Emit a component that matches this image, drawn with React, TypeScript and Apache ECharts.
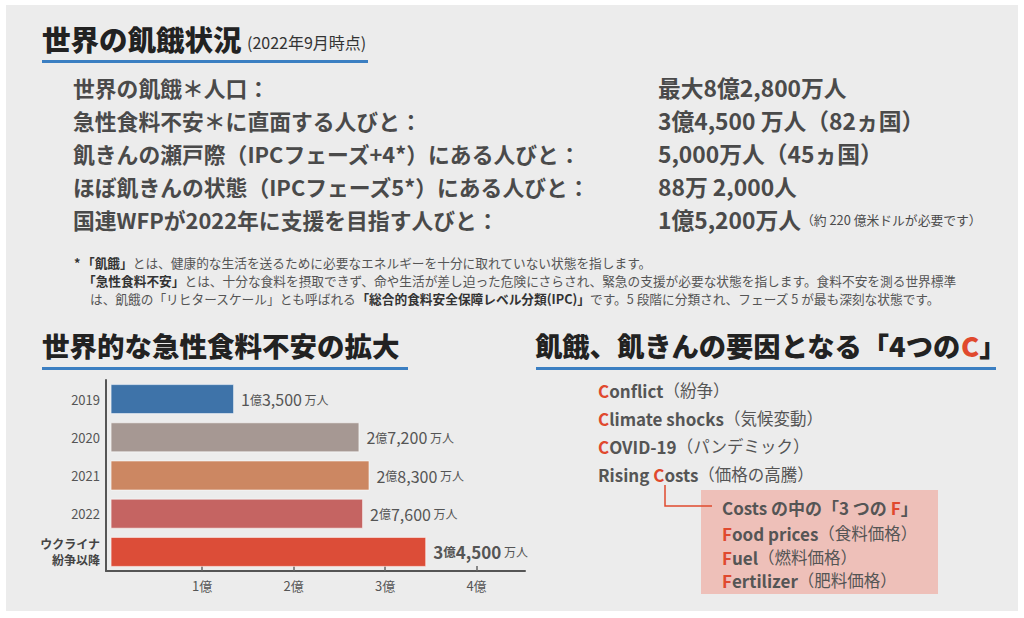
import React, { useEffect, useRef } from 'react';
import * as echarts from 'echarts';

// ---------- data ----------
const titleMain = '世界の飢餓状況';
const titleDate = '(2022年9月時点)';
const statLabels = [
  '世界の飢餓＊人口：',
  '急性食料不安＊に直面する人びと：',
  '飢きんの瀬戸際（IPCフェーズ+4*）にある人びと：',
  'ほぼ飢きんの状態（IPCフェーズ5*）にある人びと：',
  '国連WFPが2022年に支援を目指す人びと：',
];
const statValues = [
  '最大8億2,800万人',
  '3億4,500 万人（82ヵ国）',
  '5,000万人（45ヵ国）',
  '88万 2,000人',
  '1億5,200万人',
];
const statNote = '（約 220 億米ドルが必要です）';

const chartTitle = '世界的な急性食料不安の拡大';
const categories = ['2019', '2020', '2021', '2022', 'ウクライナ\n紛争以降'];
const values = [1.35, 2.72, 2.83, 2.76, 3.45]; // 億人
const barColors = ['#3e73a9', '#a69893', '#cc8762', '#c56462', '#dc4d38'];
const axisTicks = [1, 2, 3, 4];

const causesTitle = '飢餓、飢きんの要因となる「4つの';
const cPrefix = ['', '', '', 'Rising '];
const cRest = ['onflict', 'limate shocks', 'OVID-19', 'osts'];
const cJp = ['（紛争）', '（気候変動）', '（パンデミック）', '（価格の高騰）'];
const fRest = ['ood prices', 'uel', 'ertilizer'];
const fJp = ['（食料価格）', '（燃料価格）', '（肥料価格）'];

const FONT = '"Noto Sans CJK JP", "Noto Sans", sans-serif';
const TXT = '#4a4a4a';
const RED = '#e0492e';
const BLUE = '#3b7fc2';

function fmtLabel(v: number, bold: boolean) {
  const oku = Math.floor(v);
  const man = Math.round((v - oku) * 10000);
  const s = man.toLocaleString('en-US');
  const p = bold ? 'b' : 'n';
  return `{${p}|${oku}}{${bold ? 'kb' : 'k'}|億}{${p}|${s}}{u| 万人}`;
}

export default function App() {
  const ref = useRef<HTMLDivElement>(null);
  useEffect(() => {
    if (!ref.current) return;
    const chart = echarts.init(ref.current, undefined, { renderer: 'svg' });
    const g: any[] = [];
    g.push({ type: 'rect', shape: { x: 6, y: 5, width: 1012, height: 606 }, style: { fill: '#ececec' }, z: -10 });
    const txt = (x: number, y: number, text: string, size: number, weight: any, fill: string, extra: any = {}) =>
      g.push({ type: 'text', x, y, style: { text, fontSize: size, fontWeight: weight, fontFamily: FONT, fill, verticalAlign: 'middle', ...extra } });
    // titles
    txt(42, 38, titleMain, 28.5, 900, '#222');
    txt(247, 42, titleDate, 16, 'normal', '#333');
    g.push({ type: 'rect', shape: { x: 42, y: 60, width: 326, height: 3 }, style: { fill: BLUE } });
    const rowY = [87, 120, 153, 186, 219];
    statLabels.forEach((s, i) => txt(73, rowY[i], s, 21.8, 'bold', TXT));
    statValues.forEach((s, i) => {
      if (i === statValues.length - 1) {
        g.push({ type: 'text', x: 658, y: rowY[i], style: { text: `{a|${s}}{b|${statNote}}`, verticalAlign: 'middle', fontFamily: FONT,
          rich: { a: { fontSize: 22.8, fontWeight: 'bold', fill: TXT, fontFamily: FONT }, b: { fontSize: 12.8, fill: TXT, fontFamily: FONT } } } });
      } else txt(658, rowY[i], s, 22.8, 'bold', TXT);
    });
    // footnotes
    const richFoot = {
      n: { fontSize: 12.7, fill: '#555', fontFamily: FONT },
      b: { fontSize: 12.7, fill: '#333', fontWeight: 'bold', fontFamily: FONT },
    };
    const foot = (x: number, y: number, text: string) =>
      g.push({ type: 'text', x, y, style: { text, verticalAlign: 'middle', fontFamily: FONT, rich: richFoot } });
    foot(74, 262, '{b|*}');
    foot(82, 262, '{b|「飢餓」}{n|とは、健康的な生活を送るために必要なエネルギーを十分に取れていない状態を指します。}');
    foot(83, 280, '{b|「急性食料不安」}{n|とは、十分な食料を摂取できず、命や生活が差し迫った危険にさらされ、緊急の支援が必要な状態を指します。食料不安を測る世界標準}');
    foot(90, 298, '{n|は、飢餓の「リヒタースケール」とも呼ばれる}{b|「総合的食料安全保障レベル分類(IPC)」}{n|です。5 段階に分類され、フェーズ 5 が最も深刻な状態です。}');
    // section titles
    txt(42, 345, chartTitle, 27.5, 900, '#222');
    g.push({ type: 'rect', shape: { x: 42, y: 367, width: 366, height: 3 }, style: { fill: BLUE } });
    g.push({ type: 'text', x: 535, y: 345, style: { text: `{a|${causesTitle}}{r|C}{a|」}`, verticalAlign: 'middle', fontFamily: FONT,
      rich: { a: { fontSize: 27.3, fontWeight: 900, fill: '#222', fontFamily: FONT }, r: { fontSize: 27.3, fontWeight: 900, fill: RED, fontFamily: FONT } } } });
    g.push({ type: 'rect', shape: { x: 536, y: 367, width: 460, height: 3 }, style: { fill: BLUE } });
    // causes
    const richC = {
      e: { fontSize: 17, fontWeight: 'bold', fill: '#555', fontFamily: FONT },
      r: { fontSize: 17, fontWeight: 'bold', fill: RED, fontFamily: FONT },
      j: { fontSize: 16.5, fill: '#555', fontFamily: FONT },
    };
    const cY = [390, 418, 446, 474];
    cRest.forEach((r, i) => {
      const pre = cPrefix[i] ? `{e|${cPrefix[i]}}` : '';
      g.push({ type: 'text', x: 598, y: cY[i], style: { text: `${pre}{r|C}{e|${r}}{j|${cJp[i]}}`, verticalAlign: 'middle', fontFamily: FONT, rich: richC } });
    });
    g.push({ type: 'rect', shape: { x: 701, y: 490, width: 237, height: 104 }, style: { fill: '#eec0b9' } });
    g.push({ type: 'polyline', shape: { points: [[665, 485], [665, 506], [712, 506]] }, style: { stroke: RED, lineWidth: 1.5, fill: null } });
    g.push({ type: 'text', x: 722, y: 507, style: { text: '{e|Costs の中の「3 つの }{r|F}{e|」}', verticalAlign: 'middle', fontFamily: FONT, rich: richC } });
    const fY = [533, 557, 580];
    fRest.forEach((r, i) => {
      g.push({ type: 'text', x: 722, y: fY[i], style: { text: `{r|F}{e|${r}}{j|${fJp[i]}}`, verticalAlign: 'middle', fontFamily: FONT, rich: richC } });
    });

    const last = values.length - 1;
    chart.setOption({
      animation: false,
      backgroundColor: '#ffffff',
      textStyle: { fontFamily: FONT },
      grid: { left: 106, top: 380, width: 419, height: 191, containLabel: false },
      xAxis: {
        type: 'value', min: -0.05, max: 4.53,
        splitLine: { show: false },
        axisLine: { show: true, onZero: false, lineStyle: { color: '#555', width: 2 } },
        axisTick: { show: true, inside: true, length: 5, customValues: axisTicks, lineStyle: { color: '#666', width: 1.5 } },
        axisLabel: { customValues: axisTicks, formatter: (v: number) => `${v}億`, color: '#555', fontSize: 13, margin: 8, fontFamily: FONT },
      },
      yAxis: {
        type: 'category', data: categories, inverse: true,
        axisLine: { show: true, onZero: false, lineStyle: { color: '#555', width: 2 } },
        axisTick: { show: false },
        axisLabel: {
          margin: 6, color: '#555', fontSize: 13, fontFamily: FONT,
          formatter: (v: string) => (v.includes('\n') ? v.split('\n').map((s) => `{b|${s}}`).join('\n') : v),
          rich: { b: { fontSize: 12, fontWeight: 'bold', color: '#444', lineHeight: 16, align: 'right', fontFamily: FONT } },
        },
      },
      series: [{
        type: 'bar', barWidth: 30,
        data: values.map((v, i) => ({ value: v, itemStyle: { color: barColors[i] } })),
        itemStyle: { borderColor: 'rgba(255,255,255,0.55)', borderWidth: 1 },
        label: {
          show: true, position: 'right', distance: 7,
          formatter: (p: any) => fmtLabel(p.value, p.dataIndex === last),
          rich: {
            n: { fontSize: 16, color: '#555', fontFamily: FONT },
            k: { fontSize: 12, color: '#555', fontFamily: FONT },
            b: { fontSize: 17, fontWeight: 'bold', color: '#555', fontFamily: FONT },
            kb: { fontSize: 12.5, fontWeight: 'bold', color: '#555', fontFamily: FONT },
            u: { fontSize: 12, color: '#555', fontFamily: FONT },
          },
        },
      }],
      graphic: g,
    });
    return () => chart.dispose();
  }, []);
  return <div ref={ref} style={{ position: 'absolute', left: 0, top: 0, width: 1024, height: 618 }} />;
}
